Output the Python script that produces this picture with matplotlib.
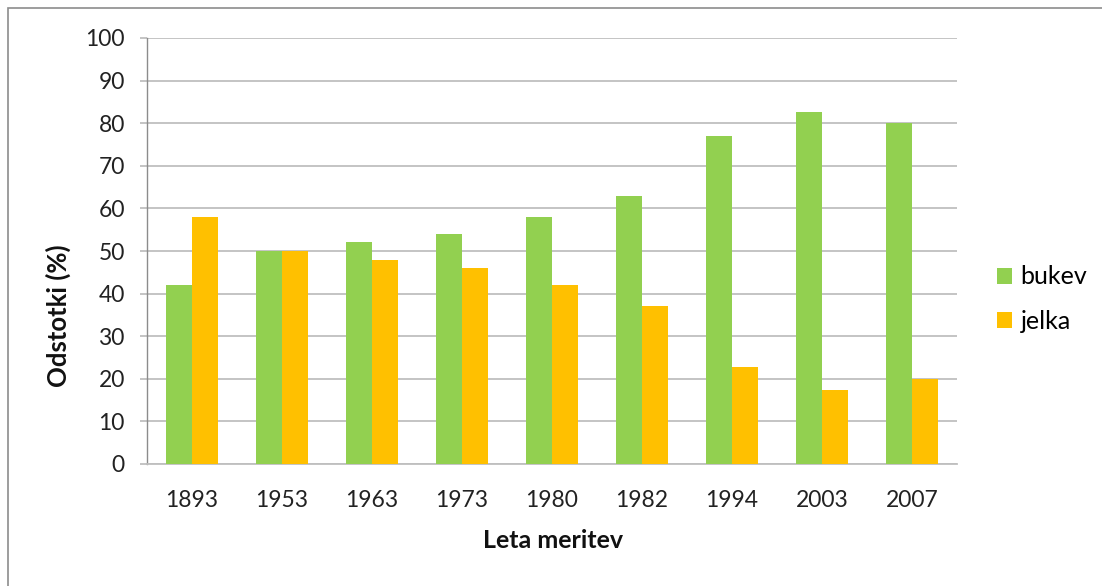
import matplotlib.pyplot as plt
import numpy as np
from matplotlib.patches import Rectangle

plt.rcParams["font.family"] = ["Lato", "DejaVu Sans"]

# Podatki
leta = ["1893", "1953", "1963", "1973", "1980", "1982", "1994", "2003", "2007"]
bukev = [42, 50, 52, 54, 58, 63, 77, 82.6, 80]
jelka = [58, 50, 48, 46, 42, 37, 22.7, 17.4, 20]

W, H = 1102, 586
fig = plt.figure(figsize=(W / 100, H / 100), dpi=100)

# okvir okrog grafa
fig.patches.append(Rectangle((8 / W, -0.1), 1.2, (H - 8) / H + 0.1, transform=fig.transFigure,
                             fill=False, edgecolor="#8c8c8c", linewidth=1.2))

ax = fig.add_axes([147 / W, (H - 464) / H, (957 - 147) / W, (464 - 38) / H])

x = np.arange(len(leta))
w = 0.289
ax.bar(x - w / 2, bukev, w, color="#92D050", label="bukev", zorder=3)
ax.bar(x + w / 2, jelka, w, color="#FFC000", label="jelka", zorder=3)

ax.set_xlim(-0.5, len(leta) - 0.5)
ax.set_ylim(0, 100)
ax.set_yticks(range(0, 101, 10))
ax.set_xticks(x)
ax.set_xticklabels(leta)

ax.grid(axis="y", color="#bfbfbf", linewidth=1.3, zorder=0)
for s in ["top", "right"]:
    ax.spines[s].set_visible(False)
ax.spines["bottom"].set_color("#bfbfbf")
ax.spines["bottom"].set_linewidth(1.3)
ax.spines["left"].set_color("#8c8c8c")
ax.spines["left"].set_linewidth(1.0)

ax.tick_params(axis="y", length=5, width=1.3, color="#bfbfbf", pad=11, labelsize=16.5, labelcolor="#222222")
ax.tick_params(axis="x", length=0, pad=19, labelsize=16.5, labelcolor="#222222")

fig.text(58 / W, 1 - 316 / H, "Odstotki (%)", rotation=90, ha="center", va="center",
         fontsize=18.5, fontweight="bold", color="#111111")
fig.text(553 / W, 1 - 541 / H, "Leta meritev", ha="center", va="center",
         fontsize=18, fontweight="bold", color="#111111")

ax.legend(loc="center left", bbox_to_anchor=(974 / W, 1 - 299 / H), bbox_transform=fig.transFigure,
          frameon=False, handlelength=0.6, handleheight=0.6, handletextpad=0.36,
          labelspacing=0.85, fontsize=18)

fig.savefig("out.png", dpi=100)
